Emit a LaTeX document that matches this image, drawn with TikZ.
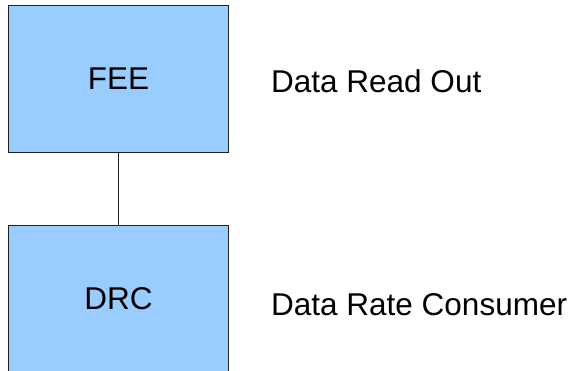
\documentclass[tikz,border=0pt]{standalone}
\usepackage{fontspec}
\setmainfont{Liberation Sans}
\definecolor{boxblue}{HTML}{99CCFF}
\definecolor{edgegray}{HTML}{202020}
\begin{document}
\begin{tikzpicture}[x=1pt,y=1pt,
  block/.style={draw=edgegray,fill=boxblue,line width=1pt,minimum width=220.4pt,minimum height=147pt,inner sep=0pt,font=\fontsize{31.5}{38}\selectfont},
  lbl/.style={anchor=base west,inner sep=0pt,font=\fontsize{31.5}{38}\selectfont},
  conn/.style={draw=edgegray,line width=1pt}]
\useasboundingbox (0,0) rectangle (573,-370);
\clip (0,0) rectangle (573,-370);
\node[block] (fee) at (118.5,-78.5) {FEE};
\node[block] (drc) at (118.5,-298.5) {DRC};
\draw[conn] (fee.south) -- (drc.north);
\node[lbl] (ro) at (271,-92.3) {Data Read Out};
\node[lbl] (rc) at (271,-315) {Data Rate Consumer};
\end{tikzpicture}
\end{document}
